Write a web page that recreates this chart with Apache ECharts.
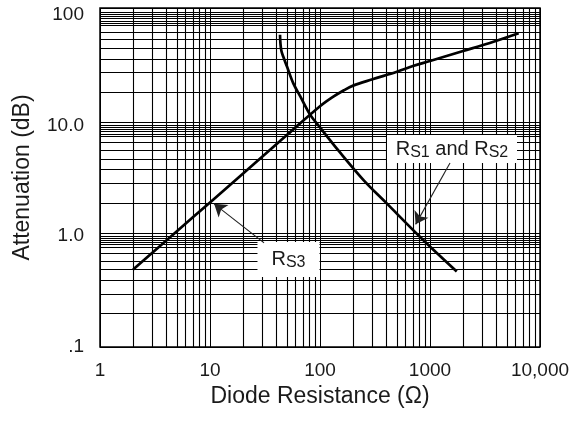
<!DOCTYPE html>
<html>
<head>
<meta charset="utf-8">
<script src="https://cdn.jsdelivr.net/npm/echarts@6/dist/echarts.min.js"></script>
<style>
  html, body { margin: 0; padding: 0; background: #fff; }
  #chart { width: 576px; height: 423px; }
</style>
</head>
<body>
<div id="chart"></div>
<script>
// Attenuation vs. diode resistance (log-log)

// Curve for R_S3: [resistance (Ω), attenuation (dB)]
const rs3Curve = [
  [2, 0.5], [5, 1.11], [10, 2.02], [20, 3.68], [50, 8.2], [100, 14.9],
  [130, 18.0], [165, 20.8], [200, 22.9], [300, 26.1], [500, 30.6],
  [700, 34.4], [1000, 38.2], [2000, 47.0], [3500, 55.6], [6400, 68]
];

// Curve for R_S1 and R_S2
const rs12Curve = [
  [43.3, 66], [43.7, 55], [44.6, 47], [46.4, 41.7], [50, 34.2], [57.2, 24],
  [66, 18.4], [81, 12.6], [100, 9.6], [150, 5.8], [250, 3.2], [400, 2.0],
  [800, 1.0], [1200, 0.68], [1750, 0.48]
];

// Axis tick labels
const xTickValues = [1, 10, 100, 1000, 10000];
const xTickLabels = ['1', '10', '100', '1000', '10,000'];
const yTickValues = [0.1, 1, 10, 100];
const yTickLabels = ['.1', '1.0', '10.0', '100'];

// Callout anchors in data coordinates
const rs3LabelAt = [51.7, 0.616];
const rs3ArrowFrom = [31, 0.87];
const rs3ArrowTo = [10.9, 1.96];
const rs12LabelAt = [1585, 6.13];
const rs12ArrowFrom = [1520, 4.58];
const rs12ArrowTo = [740, 1.28];

// Log-paper rulings inside each decade
const xDecades = [1, 10, 100, 1000];
const xMultipliers = [2, 3, 4, 5, 6, 7, 8, 9];
const yDecades = [0.1, 1, 10];
const yMultipliers = [2, 3, 4, 5, 6, 7, 8, 8.4, 8.8, 9.2, 9.6, 10.6];

const FONT = '"Liberation Sans", Arial, Helvetica, sans-serif';
const INK = '#1a1a1a';

function decadeLabel(values, labels) {
  return function (v) {
    for (let i = 0; i < values.length; i++) {
      if (Math.abs(Math.log10(v) - Math.log10(values[i])) < 1e-6) return labels[i];
    }
    return '';
  };
}

const xRulings = [];
xDecades.forEach(d => xMultipliers.forEach(m => xRulings.push({ xAxis: +(d * m).toPrecision(6) })));
const yRulings = [];
yDecades.forEach(d => yMultipliers.forEach(m => yRulings.push({ yAxis: +(d * m).toPrecision(6) })));

const calloutRich = {
  r: { fontSize: 20, fontFamily: FONT, color: INK },
  s: { fontSize: 16, fontFamily: FONT, color: INK, padding: [7, 0, 0, 0] }
};

const arrowLine = {
  z: 4,
  silent: true,
  animation: false,
  symbol: ['none', 'arrow'],
  symbolSize: 12,
  itemStyle: { color: '#222' },
  lineStyle: { color: '#222', width: 1.1, type: 'solid' },
  label: { show: false },
  emphasis: { disabled: true }
};

const chart = echarts.init(document.getElementById('chart'), null, { renderer: 'canvas' });

chart.setOption({
  animation: false,
  backgroundColor: '#fff',
  grid: {
    left: 100, right: 36, top: 8, bottom: 76,
    show: true, borderColor: '#000', borderWidth: 1.5, backgroundColor: 'transparent'
  },
  xAxis: {
    type: 'log', logBase: 10, min: 1, max: 10000,
    axisLine: { show: false }, axisTick: { show: false },
    splitLine: { show: true, lineStyle: { color: '#000', width: 1 } },
    axisLabel: {
      fontSize: 19, fontFamily: FONT, color: INK, margin: 14,
      formatter: decadeLabel(xTickValues, xTickLabels)
    },
    name: 'Diode Resistance (Ω)', nameLocation: 'middle', nameGap: 36,
    nameTextStyle: { fontSize: 23, fontFamily: FONT, color: INK }
  },
  yAxis: {
    type: 'log', logBase: 10, min: 0.1, max: 115,
    axisLine: { show: false }, axisTick: { show: false },
    splitLine: { show: true, lineStyle: { color: '#000', width: 1 } },
    axisLabel: {
      fontSize: 19, fontFamily: FONT, color: INK, margin: 16,
      formatter: decadeLabel(yTickValues, yTickLabels)
    },
    name: 'Attenuation (dB)', nameLocation: 'middle', nameGap: 66,
    nameTextStyle: { fontSize: 23, fontFamily: FONT, color: INK }
  },
  series: [
    {
      name: 'rulings',
      type: 'line',
      data: [],
      silent: true,
      markLine: {
        z: 1,
        silent: true,
        animation: false,
        symbol: ['none', 'none'],
        label: { show: false },
        lineStyle: { color: '#000', width: 1.1, type: 'solid' },
        emphasis: { disabled: true },
        data: xRulings.concat(yRulings)
      }
    },
    {
      name: 'RS3',
      type: 'line',
      data: rs3Curve,
      smooth: 0.35,
      symbol: 'none',
      z: 2,
      lineStyle: { color: '#000', width: 2.7 },
      markPoint: {
        z: 3,
        silent: true,
        animation: false,
        symbol: 'rect',
        symbolSize: [62, 35],
        itemStyle: { color: '#fff' },
        label: {
          show: true, position: 'inside',
          formatter: '{r|R}{s|S3}', rich: calloutRich
        },
        data: [{ coord: rs3LabelAt }]
      },
      markLine: Object.assign({}, arrowLine, {
        data: [[{ coord: rs3ArrowFrom }, { coord: rs3ArrowTo }]]
      })
    },
    {
      name: 'RS1 and RS2',
      type: 'line',
      data: rs12Curve,
      smooth: 0.35,
      symbol: 'none',
      z: 2,
      lineStyle: { color: '#000', width: 2.7 },
      markPoint: {
        z: 3,
        silent: true,
        animation: false,
        symbol: 'rect',
        symbolSize: [130, 28],
        itemStyle: { color: '#fff' },
        label: {
          show: true, position: 'inside',
          formatter: '{r|R}{s|S1}{r| and R}{s|S2}', rich: calloutRich
        },
        data: [{ coord: rs12LabelAt }]
      },
      markLine: Object.assign({}, arrowLine, {
        data: [[{ coord: rs12ArrowFrom }, { coord: rs12ArrowTo }]]
      })
    }
  ]
});
</script>
</body>
</html>
